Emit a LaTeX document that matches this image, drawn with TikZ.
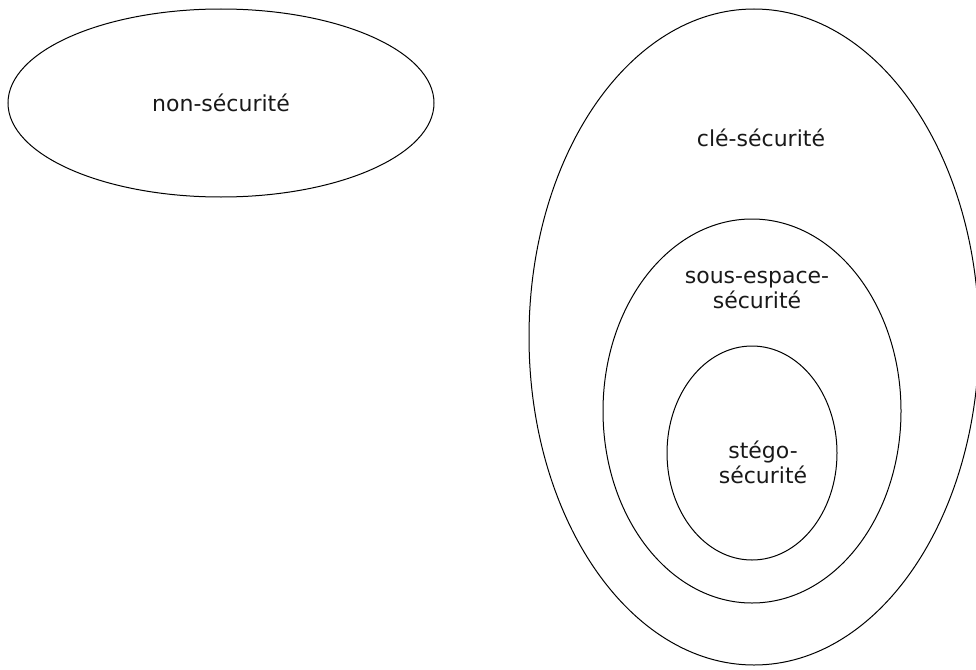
\documentclass[tikz,border=0pt]{standalone}
\usepackage{fontspec}
\setmainfont{DejaVu Sans}
\usetikzlibrary{shapes.geometric}
\begin{document}
\begin{tikzpicture}[x=1pt,y=-1pt,
  region/.style={draw=black,line width=1pt},
  lbl/.style={font=\fontsize{22}{25}\selectfont,text=black!90,align=center,inner sep=0pt}]
\useasboundingbox (0,0) rectangle (976,669);
\draw[region] (221,103) ellipse [x radius=213, y radius=94];
\draw[region] (754,337) ellipse [x radius=225, y radius=328];
\draw[region] (752,411) ellipse [x radius=149, y radius=192];
\draw[region] (752,453) ellipse [x radius=85, y radius=107];
\node[lbl] (ns) at (221,103) {non-sécurité};
\node[lbl] (cs) at (761,138) {clé-sécurité};
\node[lbl] (ss) at (757,290) {sous-espace-\\sécurité};
\node[lbl] (st) at (763,462) {stégo-\\sécurité};
\end{tikzpicture}
\end{document}
